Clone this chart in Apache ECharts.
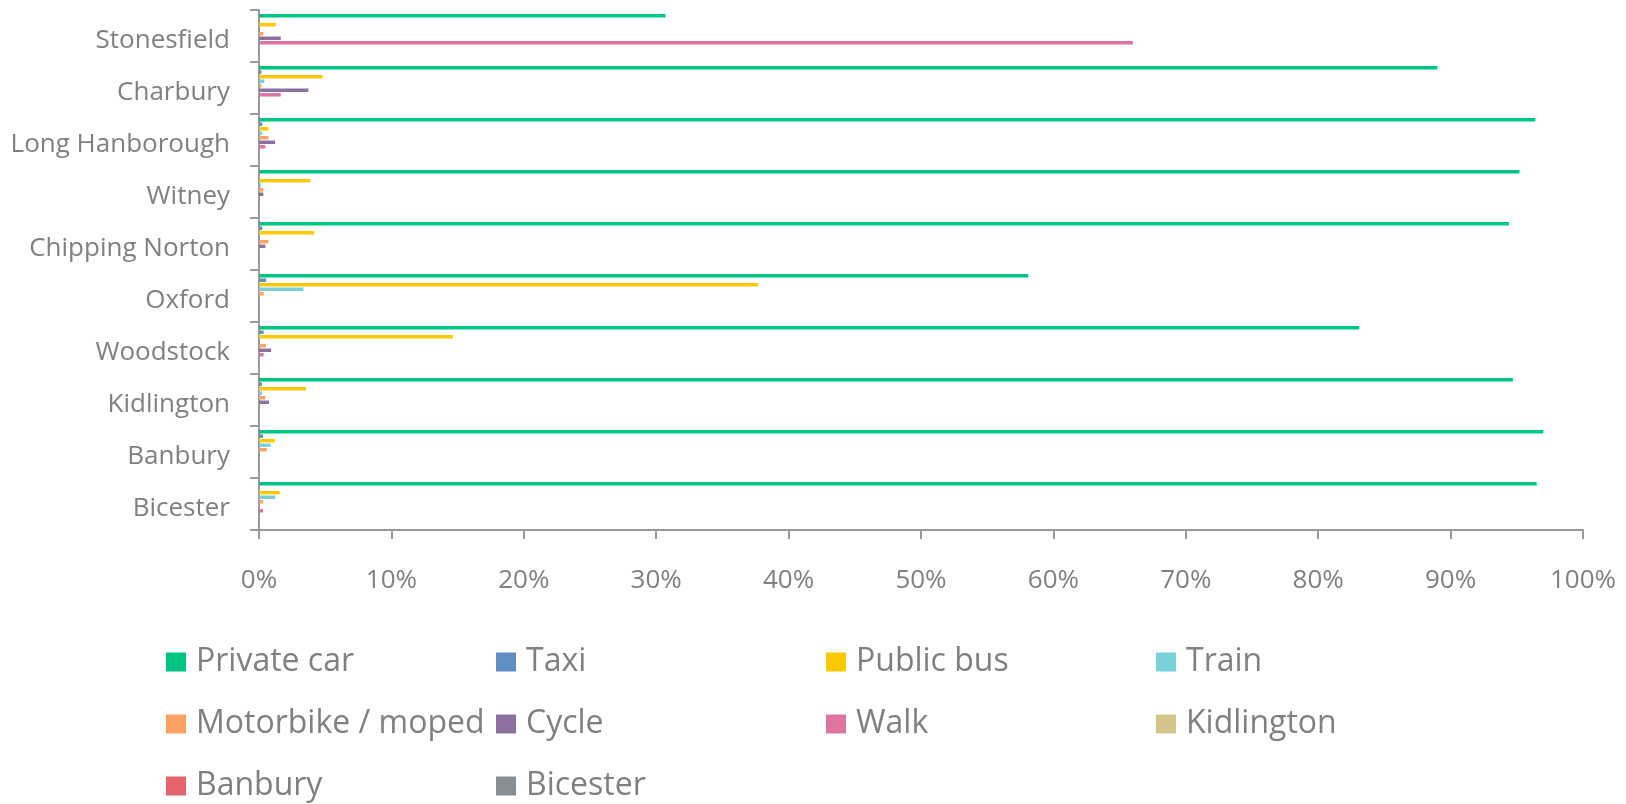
<!DOCTYPE html>
<html>
<head>
<meta charset="utf-8">
<title>Travel mode share by town</title>
<script src="https://cdn.jsdelivr.net/npm/echarts@6/dist/echarts.min.js"></script>
<style>
  html, body { margin: 0; padding: 0; background: #ffffff; }
  #chart { width: 1626px; height: 804px; }
</style>
</head>
<body>
<div id="chart"></div>
<script>
// Towns, listed top to bottom
const towns = ['Stonesfield', 'Charbury', 'Long Hanborough', 'Witney', 'Chipping Norton',
               'Oxford', 'Woodstock', 'Kidlington', 'Banbury', 'Bicester'];

// Share of trips by mode (%), one value per town in the order above
const privateCar = [30.7, 89.0, 96.4, 95.2, 94.4, 58.1, 83.1, 94.7, 97.0, 96.5];
const taxi       = [0, 0.18, 0.25, 0, 0.25, 0.53, 0.35, 0.23, 0.30, 0];
const publicBus  = [1.26, 4.79, 0.71, 3.88, 4.16, 37.7, 14.63, 3.55, 1.18, 1.56];
const train      = [0, 0.40, 0.25, 0.15, 0, 3.35, 0, 0.23, 0.86, 1.23];
const motorbike  = [0.33, 0.18, 0.71, 0.33, 0.71, 0.35, 0.53, 0.48, 0.58, 0.30];
const cycle      = [1.64, 3.73, 1.21, 0.33, 0.48, 0, 0.91, 0.76, 0, 0];
const walk       = [66.0, 1.64, 0.48, 0, 0, 0, 0.35, 0, 0, 0.30];
const kidlington = [0, 0, 0, 0, 0, 0, 0, 0, 0, 0];
const banbury    = [0, 0, 0, 0, 0, 0, 0, 0, 0, 0];
const bicester   = [0, 0, 0, 0, 0, 0, 0, 0, 0, 0];

const seriesNames = ['Private car', 'Taxi', 'Public bus', 'Train', 'Motorbike / moped',
                     'Cycle', 'Walk', 'Kidlington', 'Banbury', 'Bicester'];
const seriesValues = [privateCar, taxi, publicBus, train, motorbike,
                      cycle, walk, kidlington, banbury, bicester];
const seriesColors = ['#02C584', '#5F8FC4', '#FCC800', '#78D1D8', '#FDA063',
                      '#8C70A0', '#DD74A2', '#D3C48B', '#E5636B', '#878E96'];

const FONT = '"Open Sans", "Noto Sans", sans-serif';
const TEXT_GREY = '#808080';
const AXIS_GREY = '#9a9a9a';

// Legend laid out as a 4-column grid, one component per entry
const legends = seriesNames.map((name, i) => ({
  data: [name],
  left: 166 + (i % 4) * 330,
  top: 640 + Math.floor(i / 4) * 62,
  padding: 0,
  itemWidth: 20,
  itemHeight: 19,
  itemGap: 0,
  icon: 'rect',
  textStyle: {
    fontFamily: FONT,
    fontSize: 32,
    lineHeight: 36,
    color: TEXT_GREY,
    padding: [8, 0, 0, 5]
  }
}));

const chart = echarts.init(document.getElementById('chart'), null, { renderer: 'canvas' });

chart.setOption({
  backgroundColor: '#ffffff',
  animation: false,
  color: seriesColors,
  legend: legends,
  grid: {
    left: 259,
    right: 43,
    top: 10,
    bottom: 274,
    containLabel: false
  },
  xAxis: {
    type: 'value',
    min: 0,
    max: 100,
    interval: 10,
    axisLine: { show: true, lineStyle: { color: AXIS_GREY, width: 2 } },
    axisTick: { show: true, length: 9, lineStyle: { color: AXIS_GREY, width: 2 } },
    splitLine: { show: false },
    axisLabel: {
      formatter: '{value}%',
      fontFamily: FONT,
      fontSize: 26,
      color: TEXT_GREY,
      margin: 38
    }
  },
  yAxis: {
    type: 'category',
    data: towns,
    inverse: true,
    axisLine: { show: true, lineStyle: { color: AXIS_GREY, width: 2 } },
    axisTick: { show: true, length: 9, lineStyle: { color: AXIS_GREY, width: 2 } },
    splitLine: { show: false },
    axisLabel: {
      fontFamily: FONT,
      fontSize: 26,
      color: TEXT_GREY,
      margin: 29,
      verticalAlign: 'top',
      lineHeight: 10
    }
  },
  series: seriesNames.map((name, i) => ({
    name: name,
    type: 'bar',
    data: seriesValues[i],
    barCategoryGap: '15%',
    barGap: '30%',
    itemStyle: { color: seriesColors[i] }
  }))
});
</script>
</body>
</html>
